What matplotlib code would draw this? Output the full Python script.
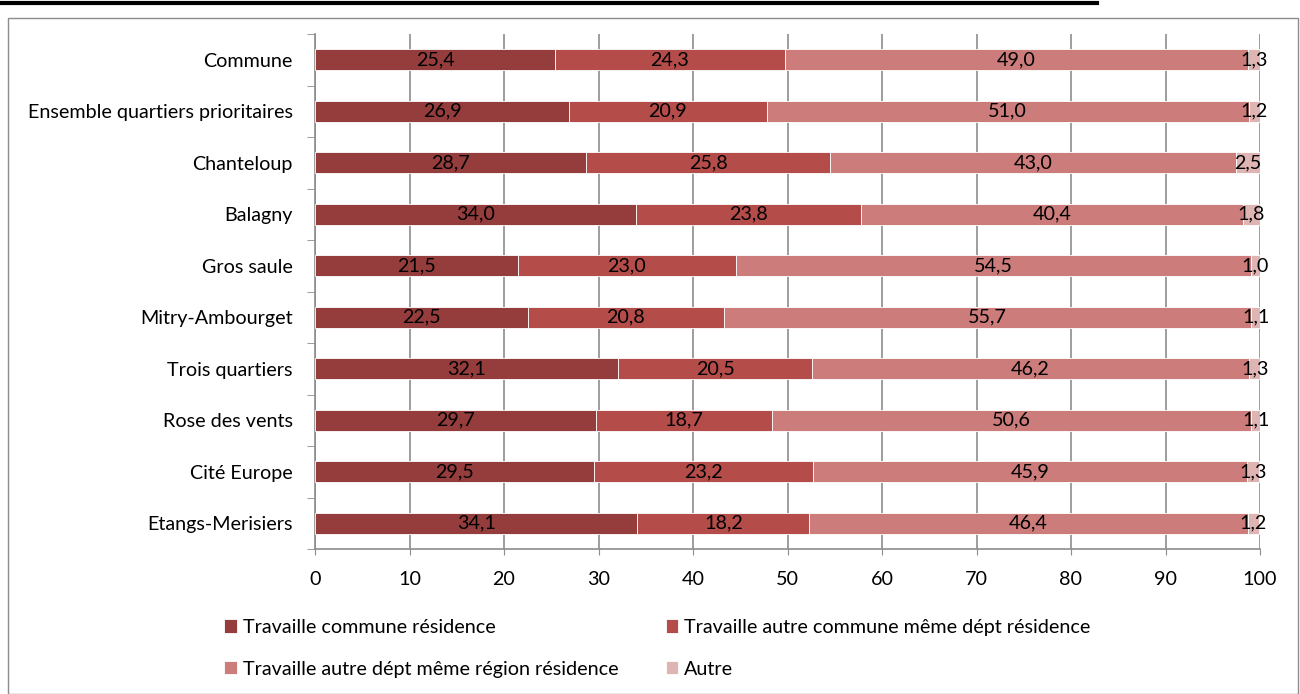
import matplotlib
matplotlib.use("Agg")
import matplotlib.pyplot as plt
from matplotlib.patches import Rectangle
from matplotlib.lines import Line2D
import numpy as np

plt.rcParams['font.family'] = ['Lato', 'DejaVu Sans']

categories = ["Commune", "Ensemble quartiers prioritaires", "Chanteloup", "Balagny",
              "Gros saule", "Mitry-Ambourget", "Trois quartiers", "Rose des vents",
              "Cité Europe", "Etangs-Merisiers"]
commune_res = [25.4, 26.9, 28.7, 34.0, 21.5, 22.5, 32.1, 29.7, 29.5, 34.1]
autre_commune = [24.3, 20.9, 25.8, 23.8, 23.0, 20.8, 20.5, 18.7, 23.2, 18.2]
autre_dept = [49.0, 51.0, 43.0, 40.4, 54.5, 55.7, 46.2, 50.6, 45.9, 46.4]
autre = [1.3, 1.2, 2.5, 1.8, 1.0, 1.1, 1.3, 1.1, 1.3, 1.2]

series_names = ["Travaille commune résidence",
                "Travaille autre commune même dépt résidence",
                "Travaille autre dépt même région résidence",
                "Autre"]
series = [commune_res, autre_commune, autre_dept, autre]
colors = ["#953D3C", "#B44C4A", "#CB7C7B", "#DFB5B4"]

FS = 14.2
W, H = 1300, 694
fig = plt.figure(figsize=(W / 100, H / 100), dpi=100)

# outer chart frame
fig.patches.append(Rectangle((8 / W, 0), (1298 - 8) / W, (H - 18) / H,
                             transform=fig.transFigure, fill=False,
                             edgecolor="#8C8C8C", linewidth=1.0))
# remnant of a heading line above the frame
fig.lines.append(Line2D([0, 1097 / W], [1 - 2.5 / H, 1 - 2.5 / H],
                        transform=fig.transFigure, color="black", linewidth=3))

ax = fig.add_axes([315 / W, 1 - 549 / H, (1260 - 315) / W, (549 - 34) / H])

y = np.arange(len(categories))
left = np.zeros(len(categories))
for vals, col, name in zip(series, colors, series_names):
    vals = np.array(vals)
    ax.barh(y, vals, left=left, height=0.40, color=col, label=name,
            edgecolor="white", linewidth=0.6, zorder=3)
    for yi, (l, v) in enumerate(zip(left, vals)):
        ax.text(l + v / 2, yi, f"{v:.1f}".replace(".", ","), ha="center",
                va="center", fontsize=FS, color="black", zorder=4)
    left = left + vals

ax.set_xlim(0, 100)
ax.set_ylim(len(categories) - 0.5, -0.5)
ax.set_xticks(np.arange(0, 101, 10))
ax.tick_params(axis="x", labelsize=FS, length=4, color="#8C8C8C", pad=12)
ax.set_yticks(y)
ax.set_yticklabels(categories, fontsize=FS)
ax.tick_params(axis="y", length=0, pad=16)
ax.set_yticks(np.arange(-0.5, len(categories) + 0.5, 1), minor=True)
ax.tick_params(axis="y", which="minor", length=6, color="#8C8C8C")
ax.grid(axis="x", color="#8C8C8C", linewidth=1.2, zorder=0)
for s in ["top", "right"]:
    ax.spines[s].set_visible(False)
for s in ["left", "bottom"]:
    ax.spines[s].set_color("#8C8C8C")
    ax.spines[s].set_linewidth(1.2)

handles, labels = ax.get_legend_handles_labels()
order = [0, 2, 1, 3]
leg = fig.legend([handles[i] for i in order], [labels[i] for i in order],
                 loc="upper left", ncol=2,
                 bbox_to_anchor=(214 / W, 1 - 609 / H), frameon=False,
                 fontsize=FS, handlelength=0.65, handleheight=0.65,
                 handletextpad=0.3, columnspacing=2.4, labelspacing=1.25,
                 borderpad=0)

fig.savefig("out.png", dpi=100)
